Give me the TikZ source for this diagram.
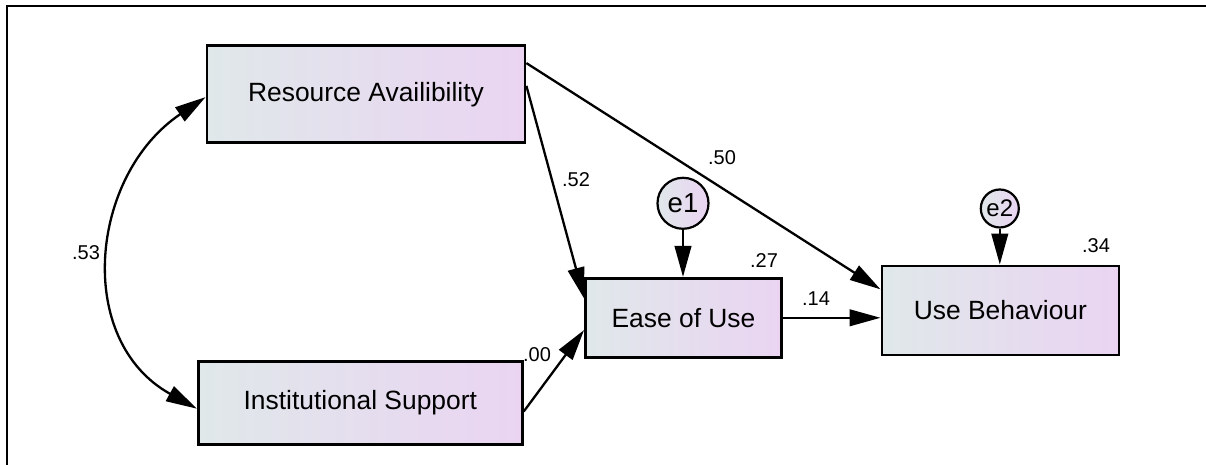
\documentclass[tikz,border=0pt]{standalone}
\usepackage{fontspec}
\setmainfont{Liberation Sans}
\usetikzlibrary{arrows.meta}
\definecolor{boxleft}{RGB}{224,232,234}
\definecolor{boxright}{RGB}{234,212,242}
\tikzset{
  varbox/.style={draw,line width=1.4pt,left color=boxleft,right color=boxright,
    font=\fontsize{13.2}{15}\selectfont,inner sep=0pt},
  errcirc/.style={draw,circle,line width=1.1pt,left color=boxleft,right color=boxright,inner sep=0pt},
  coef/.style={font=\fontsize{10}{12}\selectfont,inner sep=0pt},
  head/.tip={Triangle[length=15.5pt,width=8.3pt]},
  link/.style={line width=1.15pt,-head}
}
\begin{document}
\begin{tikzpicture}[x=0.5pt,y=0.5pt]
  \useasboundingbox (0,0) rectangle (1206,465);
  %%%%%%%%%%%%%The frame%%%%%%%%%%%%%%%%%%%%%%
  \draw[line width=1pt] (7,0) -- (7,459) -- (1206,459);

  %%%%%%%%%%%%%The variables%%%%%%%%%%%%%%%%%%%%%%
  \node[varbox,minimum width=159pt,minimum height=48.5pt] (RA) at (366,370.7) {Resource Availibility};
  \node[varbox,minimum width=162pt,minimum height=41.3pt] (IS) at (360.3,62) {Institutional Support};
  \node[varbox,minimum width=98pt,minimum height=39.5pt] (EU) at (683.5,147.2) {Ease of Use};
  \node[varbox,minimum width=118.5pt,minimum height=44.5pt] (UB) at (1000.4,154.5) {Use Behaviour};
  \node[errcirc,minimum size=25.5pt,font=\fontsize{13.8}{15}\selectfont] (e1) at (683,261.7) {e1};
  \node[errcirc,minimum size=19pt,font=\fontsize{12}{14}\selectfont] (e2) at (999.8,256.5) {e2};

  %%%%%%%%%%%%%The paths%%%%%%%%%%%%%%%%%%%%%%
  \draw[link] (RA.11.5) -- (UB.170);
  \draw[link] (RA.3.3) -- (EU.169.7);
  \draw[link] (IS.357.5) -- (EU.187.1);
  \draw[link] (EU.east) -- (UB.west |- EU.east);
  \draw[link] (e1.south) -- (e1.south |- EU.north);
  \draw[link] (e2.south) -- (e2.south |- UB.north);
  \draw[line width=1.15pt,head-head] (RA.181) to[out=214,in=151,looseness=1.15] (IS.182.5);

  %%%%%%%%%%%%%The estimates%%%%%%%%%%%%%%%%%%%%%%
  \node[coef] (c53) at (86,212.3) {.53};
  \node[coef] (c52) at (576,285) {.52};
  \node[coef] (c50) at (722,307) {.50};
  \node[coef] (c27) at (764,204) {.27};
  \node[coef] (c34) at (1096,219) {.34};
  \node[coef] (c14) at (816,166) {.14};
  \node[coef] (c00) at (537,110) {.00};
\end{tikzpicture}
\end{document}
